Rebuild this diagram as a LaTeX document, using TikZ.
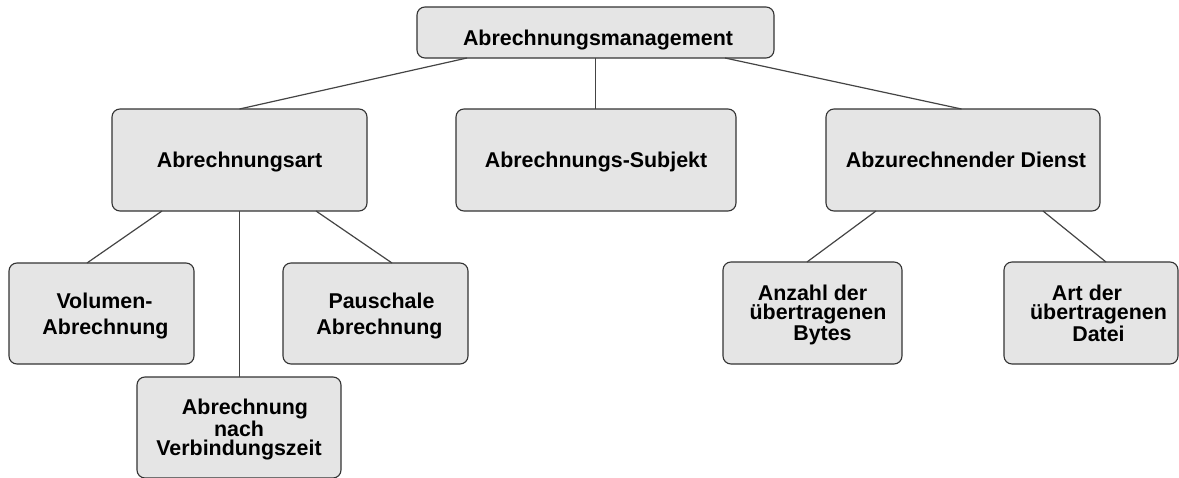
\documentclass[tikz,border=0pt]{standalone}
\usepackage{fontspec}
\setmainfont{Liberation Sans}
\usepackage{tikz}
\definecolor{boxfill}{HTML}{E5E5E5}
\definecolor{boxline}{HTML}{333333}
\definecolor{linkgray}{HTML}{444444}
\begin{document}
\begin{tikzpicture}[x=0.5pt,y=-0.5pt,
          box/.style={draw=boxline,fill=boxfill,line width=0.55pt,rounded corners=4pt,
                      align=center,inner sep=0pt,outer sep=0pt,minimum height=51pt,text depth=0pt,
                      font=\fontsize{10.7}{13}\selectfont\bfseries},
          tightbox/.style={box,font=\fontsize{10.7}{#1}\selectfont\bfseries},
          link/.style={linkgray,line width=0.6pt}]
        \useasboundingbox (0,0) rectangle (1179,477);
        % top level
        \node[box,minimum width=178.5pt,minimum height=25.5pt,text height=13.2pt] (mgmt) at (595.5,32.5) {\hspace*{2.5pt}Abrechnungsmanagement};
        % second level
        \node[box,minimum width=127.5pt] (art)    at (239.5,160) {Abrechnungsart};
        \node[box,minimum width=140pt]   (subj)   at (596,160)   {Abrechnungs-Subjekt};
        \node[box,minimum width=137pt]   (dienst) at (963,160)   {\hspace*{3pt}Abzurechnender Dienst};
        % third level
        \node[box,minimum width=92.5pt,minimum height=50.5pt] (vol)    at (101.5,313.5) {\hspace*{3pt}Volumen-\\\hspace*{4pt}Abrechnung};
        \node[box,minimum width=92.5pt,minimum height=50.5pt] (pausch) at (375.5,313.5) {\hspace*{6pt}Pauschale\\\hspace*{4pt}Abrechnung};
        \node[tightbox=9.4pt,minimum width=102pt,minimum height=50.5pt] (zeit) at (239,427.5) {\hspace*{6pt}Abrechnung\\nach\\Verbindungszeit};
        \node[tightbox=9.3pt,minimum width=89.5pt] (bytes) at (812.5,313) {Anzahl der\\\hspace*{5.5pt}übertragenen\\\hspace*{10pt}Bytes};
        \node[tightbox=9.3pt,minimum width=87pt]   (datei) at (1091,313)  {\hspace*{-4pt}Art der\\\hspace*{7.5pt}übertragenen\\\hspace*{7.5pt}Datei};
        % connectors
        \draw[link] ([xshift=-64.25pt]mgmt.south) -- (art.north);
        \draw[link] (mgmt.south) -- (mgmt.south |- subj.north);
        \draw[link] ([xshift=64.75pt]mgmt.south) -- ([xshift=-0.75pt]dienst.north);
        \draw[link] ([xshift=-38.75pt]art.south) -- ([xshift=-7.25pt]vol.north);
        \draw[link] (art.south) -- (art.south |- zeit.north);
        \draw[link] ([xshift=38.25pt]art.south) -- ([xshift=8.25pt]pausch.north);
        \draw[link] ([xshift=-43.5pt]dienst.south) -- ([xshift=-2.75pt]bytes.north);
        \draw[link] ([xshift=40pt]dienst.south) -- ([xshift=7.5pt]datei.north);
      \end{tikzpicture}
\end{document}
